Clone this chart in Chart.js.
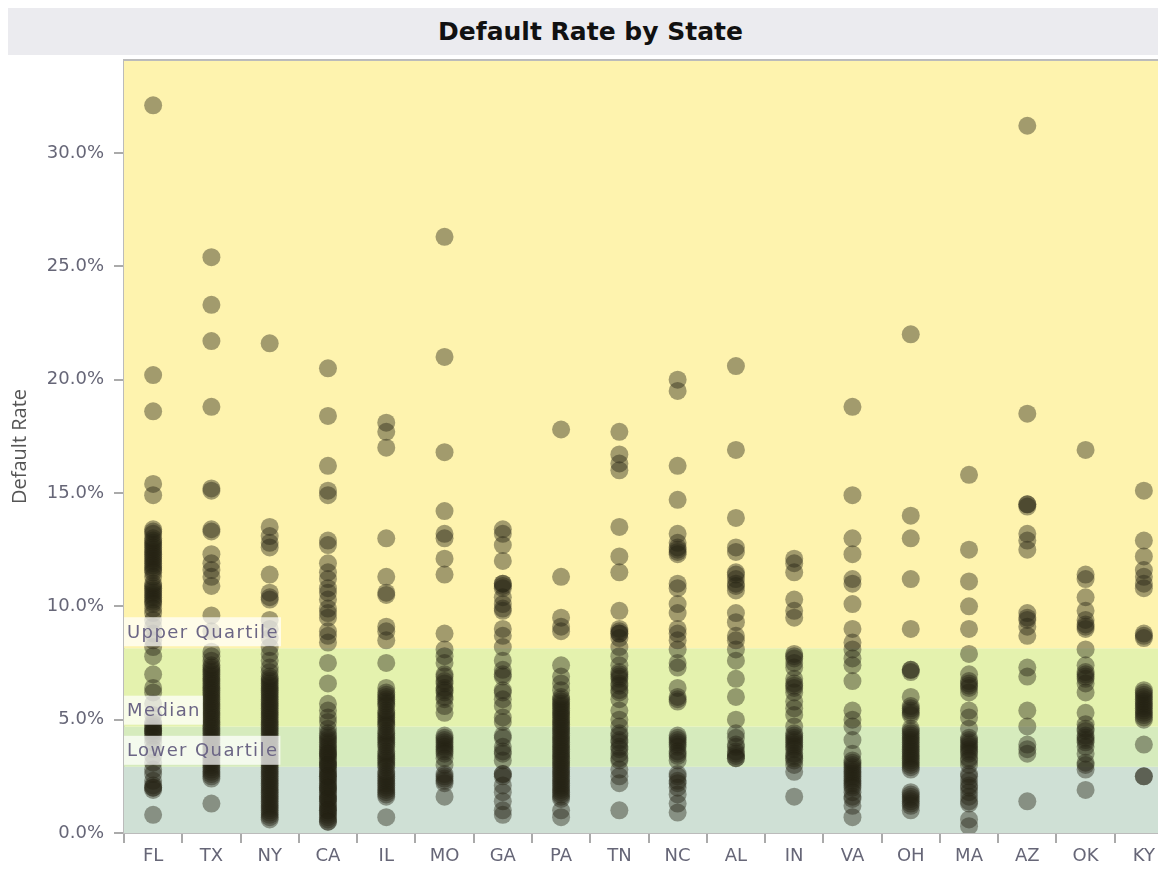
<!DOCTYPE html>
<html>
<head>
<meta charset="utf-8">
<title>Default Rate by State</title>
<script src="https://cdn.jsdelivr.net/npm/chart.js@4.4.1/dist/chart.umd.min.js"></script>
<style>
    html, body { margin: 0; padding: 0; background: #fff; overflow: hidden; }
    #title_bar {
        position: absolute; left: 8px; top: 8px; width: 1165px; height: 47px;
        background: #ebebef; text-align: center; line-height: 47px;
        font-family: "DejaVu Sans", sans-serif; font-weight: bold; font-size: 25px; color: #111;
        z-index: 2;
    }
    #wrap { position: absolute; left: 0; top: 0; width: 1158px; height: 869px; overflow: hidden; }
    #rate_canvas { position: absolute; left: 0; top: 0; }
</style>
</head>
<body>
<div id="wrap">
<canvas id="rate_canvas" width="1182" height="869" style="width:1182px;height:869px"></canvas>
<div id="title_bar">Default Rate by State</div>
</div>
<script>
var states = ['FL', 'TX', 'NY', 'CA', 'IL', 'MO', 'GA', 'PA', 'TN', 'NC', 'AL', 'IN', 'VA', 'OH', 'MA', 'AZ', 'OK', 'KY'];

var rateFL = [32.1, 20.2, 18.6, 15.4, 14.9, 13.4, 13.3, 13.2, 13.0, 12.9, 12.8, 12.7, 12.6, 12.5, 12.4, 12.3, 12.2, 12.1, 12.0, 11.9, 11.8, 11.7, 11.6, 11.5, 11.3, 11.0, 10.9, 10.8, 10.7, 10.6, 10.5, 10.4, 10.3, 10.2, 10.1, 9.9, 9.7, 9.4, 9.1, 8.8, 8.5, 8.2, 7.8, 7.0, 6.4, 6.2, 5.7, 5.2, 4.9, 4.8, 4.7, 4.6, 4.5, 4.5, 4.4, 4.3, 4.2, 4.0, 3.7, 3.4, 3.1, 2.8, 2.6, 2.3, 2.1, 2.0, 2.0, 1.9, 0.8];
var rateTX = [25.4, 23.3, 21.7, 18.8, 15.2, 15.1, 13.4, 13.3, 12.3, 11.9, 11.6, 11.3, 10.9, 9.6, 8.9, 8.0, 7.8, 7.6, 7.4, 7.3, 7.2, 7.1, 7.0, 6.9, 6.8, 6.7, 6.6, 6.5, 6.4, 6.3, 6.2, 6.1, 6.0, 5.9, 5.8, 5.7, 5.6, 5.5, 5.4, 5.3, 5.2, 5.1, 5.0, 4.9, 4.8, 4.7, 4.6, 4.5, 4.4, 4.3, 4.2, 4.1, 4.0, 3.9, 3.8, 3.7, 3.6, 3.5, 3.4, 3.3, 3.2, 3.1, 3.0, 2.9, 2.8, 2.7, 2.6, 2.5, 2.4, 1.3];
var rateNY = [21.6, 13.5, 13.1, 12.8, 12.6, 11.4, 10.6, 10.4, 10.3, 9.4, 9.0, 8.6, 8.2, 7.9, 7.6, 7.3, 7.1, 6.9, 6.8, 6.7, 6.6, 6.5, 6.4, 6.3, 6.2, 6.1, 6.0, 5.9, 5.8, 5.7, 5.6, 5.5, 5.4, 5.3, 5.2, 5.1, 5.0, 4.9, 4.8, 4.7, 4.6, 4.5, 4.4, 4.3, 4.2, 4.1, 4.0, 3.9, 3.8, 3.7, 3.6, 3.5, 3.4, 3.3, 3.2, 3.1, 3.0, 2.9, 2.8, 2.7, 2.6, 2.5, 2.4, 2.3, 2.2, 2.1, 2.0, 1.9, 1.8, 1.7, 1.6, 1.5, 1.4, 1.3, 1.2, 1.1, 1.0, 0.9, 0.8, 0.7, 0.6];
var rateCA = [20.5, 18.4, 16.2, 15.1, 14.9, 12.9, 12.7, 11.9, 11.5, 11.2, 10.8, 10.6, 10.3, 9.9, 9.7, 9.5, 8.9, 8.7, 8.4, 7.5, 6.6, 5.7, 5.4, 5.1, 4.9, 4.6, 4.4, 4.3, 4.2, 4.1, 4.0, 3.9, 3.8, 3.7, 3.6, 3.5, 3.5, 3.4, 3.3, 3.2, 3.1, 3.0, 3.0, 2.9, 2.8, 2.7, 2.6, 2.5, 2.5, 2.4, 2.3, 2.2, 2.1, 2.0, 2.0, 1.9, 1.8, 1.7, 1.6, 1.5, 1.5, 1.4, 1.3, 1.2, 1.1, 1.0, 1.0, 0.9, 0.8, 0.7, 0.6, 0.5, 0.5];
var rateIL = [18.1, 17.7, 17.0, 13.0, 11.3, 10.6, 10.5, 9.1, 8.9, 8.5, 7.5, 6.4, 6.2, 6.1, 6.0, 5.9, 5.8, 5.7, 5.6, 5.4, 5.3, 5.2, 5.1, 5.0, 4.9, 4.8, 4.7, 4.5, 4.4, 4.3, 4.2, 4.1, 4.0, 3.9, 3.8, 3.6, 3.5, 3.4, 3.3, 3.2, 3.1, 3.0, 2.9, 2.7, 2.6, 2.5, 2.4, 2.3, 2.2, 2.1, 2.0, 1.9, 1.8, 1.7, 1.6, 0.7];
var rateMO = [26.3, 21.0, 16.8, 14.2, 13.2, 13.0, 12.1, 11.4, 8.8, 8.1, 7.8, 7.5, 7.0, 6.9, 6.7, 6.6, 6.4, 6.3, 6.2, 6.0, 5.9, 5.6, 5.3, 4.3, 4.2, 4.1, 4.0, 3.9, 3.8, 3.7, 3.6, 3.5, 3.3, 3.0, 2.6, 2.5, 2.4, 2.3, 2.2, 1.6];
var rateGA = [13.4, 13.2, 12.7, 12.0, 11.0, 11.0, 10.9, 10.8, 10.4, 10.1, 9.9, 9.8, 9.0, 8.7, 8.2, 7.6, 7.2, 7.0, 6.9, 6.3, 6.2, 5.9, 5.6, 5.1, 4.9, 4.3, 4.2, 3.8, 3.6, 3.5, 3.2, 2.6, 2.6, 2.5, 2.1, 1.8, 1.4, 1.0, 0.8];
var ratePA = [17.8, 11.3, 9.5, 9.1, 8.9, 7.4, 6.9, 6.6, 6.3, 6.0, 5.9, 5.8, 5.7, 5.6, 5.5, 5.4, 5.3, 5.2, 5.1, 5.0, 4.9, 4.8, 4.7, 4.6, 4.5, 4.4, 4.3, 4.2, 4.1, 4.0, 3.9, 3.8, 3.7, 3.6, 3.5, 3.4, 3.3, 3.2, 3.1, 3.0, 2.9, 2.8, 2.7, 2.6, 2.5, 2.4, 2.3, 2.2, 2.1, 2.0, 1.9, 1.8, 1.7, 1.6, 1.5, 1.0, 0.7];
var rateTN = [17.7, 16.7, 16.3, 16.0, 13.5, 12.2, 11.5, 9.8, 9.0, 8.9, 8.8, 8.8, 8.6, 8.2, 7.8, 7.4, 7.1, 7.0, 6.9, 6.8, 6.6, 6.5, 6.3, 6.2, 5.9, 5.4, 5.0, 4.7, 4.4, 4.3, 4.1, 4.0, 3.8, 3.7, 3.5, 3.3, 3.2, 2.8, 2.5, 2.2, 1.0];
var rateNC = [20.0, 19.5, 16.2, 14.7, 13.2, 12.8, 12.6, 12.5, 12.4, 12.3, 11.0, 10.8, 10.1, 9.7, 9.0, 8.8, 8.5, 8.1, 7.5, 7.3, 6.4, 6.0, 5.9, 5.8, 4.3, 4.2, 4.1, 4.0, 3.9, 3.8, 3.6, 3.5, 3.4, 3.2, 2.6, 2.5, 2.3, 2.2, 2.0, 1.7, 1.3, 0.9];
var rateAL = [20.6, 16.9, 13.9, 12.6, 12.4, 11.5, 11.4, 11.2, 11.0, 10.9, 10.7, 9.7, 9.3, 8.7, 8.5, 8.1, 7.6, 6.8, 6.0, 5.0, 4.4, 4.2, 3.9, 3.8, 3.6, 3.5, 3.4, 3.3, 3.3];
var rateIN = [12.1, 11.9, 11.5, 10.3, 9.8, 9.5, 7.9, 7.8, 7.7, 7.5, 7.3, 6.8, 6.6, 6.5, 6.4, 6.2, 5.8, 5.5, 5.2, 4.7, 4.4, 4.3, 4.2, 4.1, 4.0, 3.9, 3.8, 3.7, 3.5, 3.4, 3.3, 3.2, 3.0, 2.7, 1.6];
var rateVA = [18.8, 14.9, 13.0, 12.3, 11.2, 11.0, 10.1, 9.0, 8.4, 8.1, 7.7, 7.4, 6.7, 5.4, 5.0, 4.7, 4.1, 3.5, 3.2, 3.1, 3.0, 2.9, 2.8, 2.7, 2.6, 2.5, 2.4, 2.3, 2.2, 2.1, 2.0, 1.8, 1.6, 1.5, 1.2, 0.7];
var rateOH = [22.0, 14.0, 13.0, 11.2, 9.0, 7.2, 7.2, 7.1, 6.0, 5.6, 5.5, 5.4, 5.3, 5.2, 4.6, 4.5, 4.4, 4.3, 4.2, 4.1, 4.0, 3.9, 3.8, 3.7, 3.6, 3.5, 3.4, 3.3, 3.2, 3.1, 3.0, 2.9, 2.8, 1.8, 1.7, 1.6, 1.5, 1.4, 1.3, 1.2, 1.0];
var rateMA = [15.8, 12.5, 11.1, 10.0, 9.0, 7.9, 7.0, 6.7, 6.6, 6.5, 6.4, 6.2, 5.4, 5.1, 4.6, 4.2, 4.1, 4.0, 3.9, 3.8, 3.7, 3.6, 3.5, 3.3, 3.2, 3.0, 2.6, 2.5, 2.3, 2.1, 2.0, 1.8, 1.6, 1.4, 1.3, 0.6, 0.3];
var rateAZ = [31.2, 18.5, 14.5, 14.5, 14.4, 13.2, 12.9, 12.5, 9.7, 9.5, 9.4, 9.1, 8.7, 7.3, 6.9, 5.4, 4.7, 3.9, 3.7, 3.5, 1.4];
var rateOK = [16.9, 11.4, 11.2, 10.4, 9.8, 9.4, 9.2, 9.1, 9.0, 8.1, 7.4, 7.1, 7.0, 6.9, 6.8, 6.6, 6.2, 5.3, 4.8, 4.6, 4.5, 4.3, 4.2, 4.1, 4.0, 3.8, 3.5, 3.1, 3.0, 2.8, 1.9];
var rateKY = [15.1, 12.9, 12.2, 11.6, 11.3, 11.0, 10.8, 8.8, 8.7, 8.6, 6.3, 6.2, 6.1, 6.0, 5.9, 5.8, 5.7, 5.6, 5.5, 5.4, 5.3, 5.2, 5.1, 5.0, 3.9, 2.5, 2.5];

var allRates = [rateFL, rateTX, rateNY, rateCA, rateIL, rateMO, rateGA, ratePA, rateTN, rateNC, rateAL, rateIN, rateVA, rateOH, rateMA, rateAZ, rateOK, rateKY];

// quartiles of all the loans (in %)
var lowerQuartile = 2.92;
var medianRate = 4.69;
var upperQuartile = 8.15;

var points = [];
for (let s = 0; s < states.length; s++) {
    for (let r = 0; r < allRates[s].length; r++) {
        points.push({x: states[s], y: allRates[s][r]});
    }
}

// colored bands behind the points, labels on top
const bandsPlugin = {
    id: 'bands',
    beforeDatasetsDraw(chart) {
        const ctx = chart.ctx;
        const area = chart.chartArea;
        const y = chart.scales.y;
        const bands = [
            [0, lowerQuartile, '#cfe0d5'],
            [lowerQuartile, medianRate, '#d6ebbd'],
            [medianRate, upperQuartile, '#e4f2ae'],
            [upperQuartile, y.max, '#fef3ae']
        ];
        ctx.save();
        bands.forEach(function(b) {
            const top = y.getPixelForValue(b[1]);
            const bottom = y.getPixelForValue(b[0]);
            ctx.fillStyle = b[2];
            ctx.fillRect(area.left, top, area.right - area.left, bottom - top);
        });
        ctx.strokeStyle = '#bbbbbb';
        ctx.lineWidth = 2;
        ctx.beginPath();
        ctx.moveTo(area.left, area.top);
        ctx.lineTo(area.right, area.top);
        ctx.stroke();
        ctx.restore();
    },
    afterDatasetsDraw(chart) {
        const ctx = chart.ctx;
        const area = chart.chartArea;
        const y = chart.scales.y;
        const labels = [
            ['Upper Quartile', upperQuartile],
            ['Median', medianRate],
            ['Lower Quartile', lowerQuartile]
        ];
        ctx.save();
        ctx.font = '18px "DejaVu Sans", sans-serif';
        ctx.letterSpacing = '1.4px';
        ctx.textBaseline = 'middle';
        labels.forEach(function(l) {
            const bottom = y.getPixelForValue(l[1]) - 2;
            const w = ctx.measureText(l[0]).width + 5;
            ctx.fillStyle = 'rgba(255,255,255,0.72)';
            ctx.fillRect(area.left, bottom - 29, w, 29);
            ctx.fillStyle = '#6b6585';
            ctx.fillText(l[0], area.left + 3, bottom - 13);
        });
        ctx.restore();
    }
};

const rateCanvas = document.getElementById('rate_canvas');
const rateChart = new Chart(rateCanvas, {
    type: 'scatter',
    data: {
        datasets: [{
            label: 'Default Rate',
            data: points,
            backgroundColor: 'rgba(36,33,19,0.42)',
            borderWidth: 0,
            pointRadius: 9,
            pointHoverRadius: 9
        }]
    },
    options: {
        responsive: false,
        animation: false,
        devicePixelRatio: 1,
        layout: {padding: {top: 60, left: 0, right: 0, bottom: 0}},
        plugins: {
            legend: {display: false},
            tooltip: {enabled: false}
        },
        scales: {
            x: {
                type: 'category',
                labels: states,
                offset: true,
                afterFit: function(scale) { scale.height = 36; },
                grid: {offset: true, drawOnChartArea: false, tickLength: 10, color: '#aaaaaa', lineWidth: 2},
                border: {color: '#bbbbbb', width: 2},
                ticks: {
                    color: '#666677',
                    padding: 3,
                    font: {family: 'DejaVu Sans', size: 18}
                }
            },
            y: {
                min: 0,
                max: 34.1,
                afterFit: function(scale) { scale.width = 124; },
                grid: {drawOnChartArea: false, tickLength: 10, color: '#aaaaaa', lineWidth: 2},
                border: {color: '#bbbbbb', width: 2},
                title: {
                    display: true,
                    text: 'Default Rate',
                    color: '#555555',
                    padding: {top: 8, bottom: 0},
                    font: {family: 'Open Sans', size: 20}
                },
                ticks: {
                    stepSize: 5,
                    includeBounds: false,
                    color: '#666677',
                    padding: 10,
                    font: {family: 'DejaVu Sans', size: 18},
                    callback: function(value) { return value.toFixed(1) + '%'; }
                }
            }
        }
    },
    plugins: [bandsPlugin]
});
</script>
</body>
</html>
